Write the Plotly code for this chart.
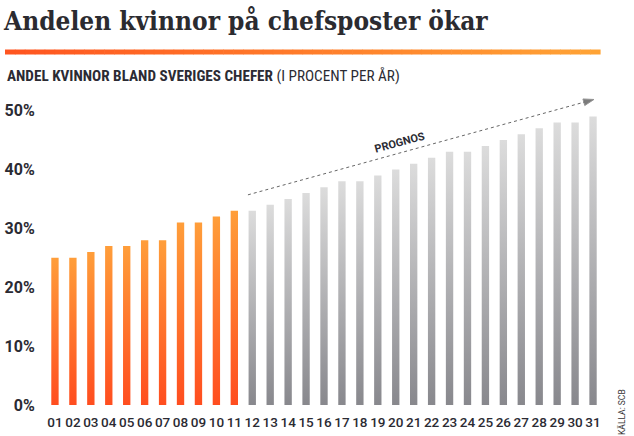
import plotly.graph_objects as go

years = ["01","02","03","04","05","06","07","08","09","10","11","12","13","14","15","16",
         "17","18","19","20","21","22","23","24","25","26","27","28","29","30","31"]
actual = [25, 25, 26, 27, 27, 28, 28, 31, 31, 32, 33]
forecast = [33, 34, 35, 36, 37, 38, 38, 39, 40, 41, 42, 43, 43, 44, 45, 46, 47, 48, 48, 49]
y_ticks = [0, 10, 20, 30, 40, 50]
y_ticktext = ["0%", "10%", "20%", "30%", "40%", "50%"]

values = actual + forecast
n_actual = len(actual)
BAR_W = 0.41

orange_scale = [[0, "#ff4d1f"], [1, "#ff9e3a"]]
gray_scale = [[0, "#88888d"], [1, "#dcdcdc"]]

fig = go.Figure()
for i, v in enumerate(values):
    xc = i + 1
    cs = orange_scale if i < n_actual else gray_scale
    fig.add_trace(go.Scatter(
        x=[xc - BAR_W / 2, xc + BAR_W / 2, xc + BAR_W / 2, xc - BAR_W / 2, xc - BAR_W / 2],
        y=[0, 0, v, v, 0],
        mode="lines", line=dict(width=0), fill="toself",
        fillgradient=dict(type="vertical", colorscale=cs, start=0, stop=v),
        hoverinfo="text", text=f"20{years[i]}: {v}%", showlegend=False,
    ))

# forecast arrow
fig.add_trace(go.Scatter(
    x=[11.76, 31.05], y=[35.7, 51.9], mode="lines+markers",
    line=dict(color="#666666", width=1, dash="3px,3px"),
    marker=dict(symbol="arrow", angleref="previous", size=[0, 11], color="#444444"),
    hoverinfo="skip", showlegend=False,
))

fig.add_annotation(x=20.25, y=44.6, xref="x", yref="y", text="<b>PROGNOS</b>",
                   showarrow=False, textangle=-15,
                   font=dict(family="Roboto", size=11, color="#2b2b33"))

# layout geometry (px)
L, R, T, B = 46, 32, 93, 31
W, H = 634, 436
pw, ph = W - L - R, H - T - B

def px(xp):
    return (xp - L) / pw

def py(yp):
    return (H - B - yp) / ph

# gradient rule under the title
c0 = (0xff, 0x55, 0x20)
c1 = (0xff, 0xa3, 0x35)
nseg = 60
x0p, x1p = 5, 600
for k in range(nseg):
    t = k / (nseg - 1)
    col = "rgb(%d,%d,%d)" % tuple(round(a + (b - a) * t) for a, b in zip(c0, c1))
    xa = x0p + (x1p - x0p) * k / nseg
    xb = x0p + (x1p - x0p) * (k + 1) / nseg + 0.6
    fig.add_shape(type="rect", xref="paper", yref="paper",
                  x0=px(xa), x1=px(xb), y0=py(54.5), y1=py(49.5),
                  line=dict(width=0), fillcolor=col, layer="above")

fig.add_annotation(xref="paper", yref="paper", x=px(5), y=py(76), xanchor="left", yanchor="middle",
                   showarrow=False,
                   text="<b>ANDEL KVINNOR BLAND SVERIGES CHEFER</b> (I PROCENT PER ÅR)",
                   font=dict(family="Liberation Sans Narrow, Roboto Condensed, Roboto", size=15.2, color="#2b2b33"))

fig.add_annotation(xref="paper", yref="paper", x=px(622), y=py(412), xanchor="center", yanchor="middle",
                   showarrow=False, text="KÄLLA: SCB", textangle=-90,
                   font=dict(family="Liberation Sans Narrow, Roboto", size=8.5, color="#333333"))

fig.update_layout(
    width=W, height=H,
    margin=dict(l=L, r=R, t=T, b=B, pad=0, autoexpand=False),
    paper_bgcolor="white", plot_bgcolor="white",
    title=dict(text="<b>Andelen kvinnor på chefsposter ökar</b>",
               x=4 / W, xanchor="left", xref="container",
               y=1 - 21 / H, yanchor="middle", yref="container",
               font=dict(family="DejaVu Serif Condensed, DejaVu Serif", size=26, color="#2b2b30")),
    xaxis=dict(range=[0.5, 31.5], tickmode="array", tickvals=list(range(1, len(years) + 1)),
               ticktext=years, showgrid=False, zeroline=False, showline=False, automargin=False,
               ticks="outside", ticklen=5, tickcolor="rgba(0,0,0,0)",
               tickfont=dict(family="Roboto", size=13.5, color="#2b2b33", weight=500)),
    yaxis=dict(range=[0, 53], tickmode="array", tickvals=y_ticks, ticktext=y_ticktext,
               showgrid=False, zeroline=False, showline=False, automargin=False,
               ticks="outside", ticklen=7, tickcolor="rgba(0,0,0,0)",
               tickfont=dict(family="Roboto", size=16, color="#2b2b33", weight="bold")),
    showlegend=False,
)

fig.write_html("out.html", config={"displayModeBar": False},
               post_script="document.body.style.margin='0';document.body.style.overflow='hidden';")
